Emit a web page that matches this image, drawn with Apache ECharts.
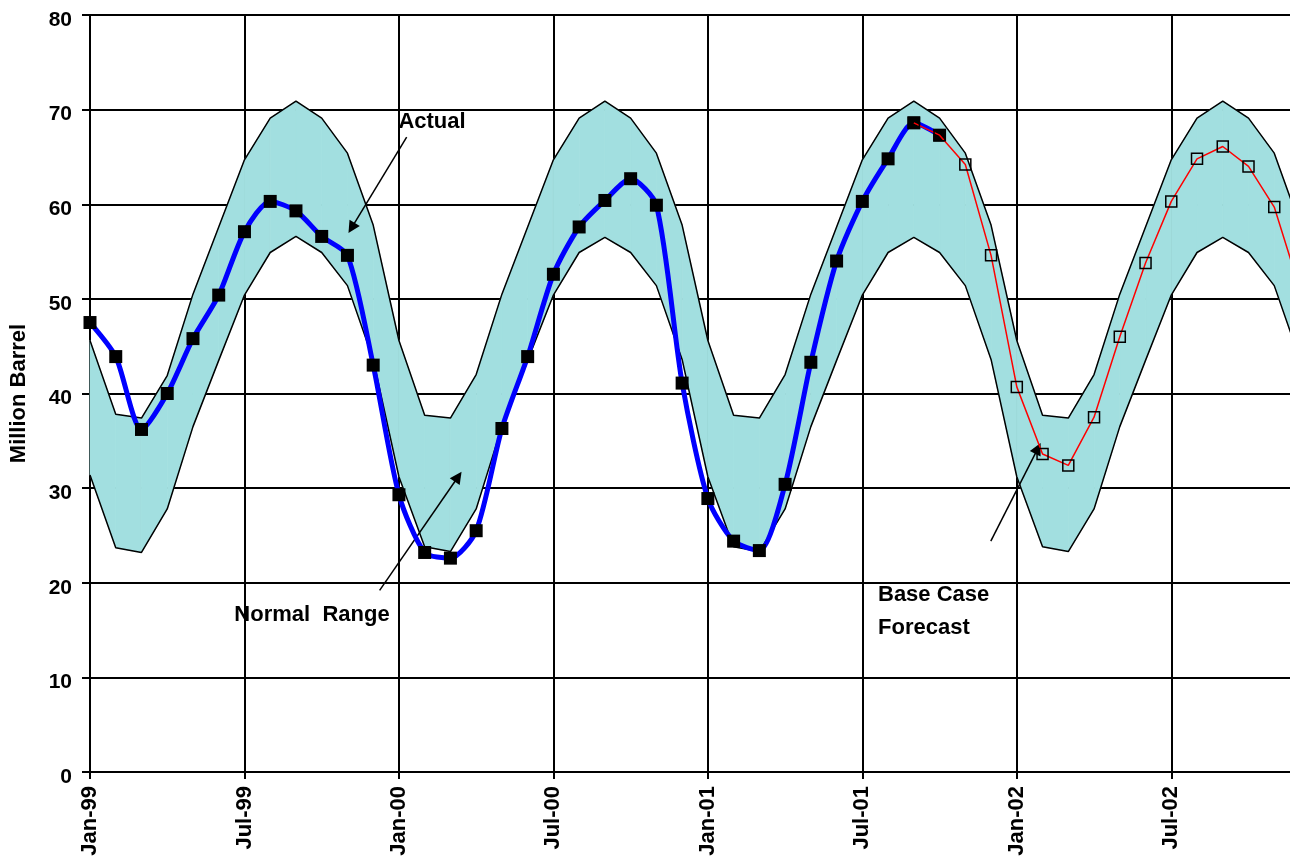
<!DOCTYPE html>
<html>
<head>
<meta charset="utf-8">
<title>Inventory vs normal range</title>
<script src="https://cdn.jsdelivr.net/npm/echarts@6/dist/echarts.min.js"></script>
<style>
  html, body { margin: 0; padding: 0; background: #fff; overflow: hidden; }
  /* plot runs on past the right edge of the window, as in the original */
  #chart { width: 1300px; height: 859px; }
</style>
</head>
<body>
<div id="chart"></div>
<script>
// x = month index, 0 = Jan-99
var tickLabels = ['Jan-99', 'Jul-99', 'Jan-00', 'Jul-00', 'Jan-01', 'Jul-01', 'Jan-02', 'Jul-02'];

// normal range, upper / lower edge, Jan-99 .. Dec-02
var normalHigh = [
  45.6, 37.8, 37.4, 41.9, 50.5, 57.6, 64.7, 69.1, 70.9, 69.1, 65.4, 57.8,
  45.6, 37.7, 37.4, 42.0, 50.5, 57.6, 64.7, 69.1, 70.9, 69.1, 65.4, 57.8,
  45.6, 37.7, 37.4, 42.0, 50.5, 57.6, 64.7, 69.1, 70.9, 69.1, 65.4, 57.8,
  45.6, 37.7, 37.4, 42.0, 50.5, 57.6, 64.7, 69.1, 70.9, 69.1, 65.4, 57.8
];
var normalLow = [
  31.4, 23.7, 23.2, 27.8, 36.5, 43.5, 50.4, 54.9, 56.6, 54.9, 51.4, 43.6,
  31.2, 23.8, 23.3, 27.8, 36.5, 43.5, 50.4, 54.9, 56.5, 54.9, 51.4, 43.6,
  31.2, 23.8, 23.3, 27.8, 36.5, 43.5, 50.4, 54.9, 56.5, 54.9, 51.4, 43.6,
  31.2, 23.8, 23.3, 27.8, 36.5, 43.5, 50.4, 54.9, 56.5, 54.9, 51.4, 43.6
];

// actual, Jan-99 .. Oct-01
var actual = [
  47.5, 43.9, 36.2, 40.0, 45.8, 50.4, 57.1, 60.3, 59.3, 56.6, 54.6, 43.0,
  29.3, 23.2, 22.6, 25.5, 36.3, 43.9, 52.6, 57.6, 60.4, 62.7, 59.9, 41.1,
  28.9, 24.4, 23.4, 30.4, 43.3, 54.0, 60.3, 64.8, 68.6, 67.3
];

// base case forecast, Sep-01 .. Dec-02
var forecastStart = 32;
var forecast = [
  68.6, 67.3, 64.2, 54.6, 40.7, 33.6, 32.4, 37.5, 46.0, 53.8, 60.3, 64.8,
  66.1, 64.0, 59.7, 51.0
];

function pairs(arr, start) {
  return arr.map(function (v, i) { return [start + i, v]; });
}

var chart = echarts.init(document.getElementById('chart'));
var FONT = '"Liberation Sans", Arial, sans-serif';
var BAND = '#a2dfe0';

// fill between the two edges, one quad per month
function renderBand(params, api) {
  var i = api.value(0);
  if (i >= normalHigh.length - 1) return;
  var pts = [
    api.coord([i, normalHigh[i]]),
    api.coord([i + 1, normalHigh[i + 1]]),
    api.coord([i + 1, normalLow[i + 1]]),
    api.coord([i, normalLow[i]])
  ];
  return {
    type: 'polygon',
    shape: { points: pts },
    style: { fill: BAND, stroke: BAND, lineWidth: 0.8 }
  };
}

var option = {
  animation: false,
  backgroundColor: '#fff',
  grid: { left: 87, top: 15, right: 0, bottom: 87, containLabel: false },
  xAxis: {
    type: 'value',
    min: 0,
    max: 47,
    interval: 6,
    axisLine: { show: true, lineStyle: { color: '#000', width: 2 } },
    axisTick: { show: true, length: 7, lineStyle: { color: '#000', width: 2 } },
    splitLine: { show: true, lineStyle: { color: '#000', width: 2 } },
    axisLabel: {
      rotate: 90,
      margin: 14,
      color: '#000',
      fontFamily: FONT,
      fontWeight: 'bold',
      fontSize: 22,
      formatter: function (v) {
        return v % 6 === 0 ? (tickLabels[v / 6] || '') : '';
      }
    }
  },
  yAxis: {
    type: 'value',
    min: 0,
    max: 80,
    interval: 10,
    name: 'Million Barrel',
    nameLocation: 'middle',
    nameGap: 60,
    nameTextStyle: { color: '#000', fontFamily: FONT, fontWeight: 'bold', fontSize: 22 },
    axisLine: { show: true, lineStyle: { color: '#000', width: 2 } },
    axisTick: { show: true, length: 8, lineStyle: { color: '#000', width: 2 } },
    splitLine: { show: true, lineStyle: { color: '#000', width: 2 } },
    axisLabel: {
      margin: 18,
      color: '#000',
      fontFamily: FONT,
      fontWeight: 'bold',
      fontSize: 21,
      verticalAlign: 'top',
      lineHeight: 10
    }
  },
  series: [
    {
      name: 'Normal Range',
      type: 'custom',
      renderItem: renderBand,
      clip: true,
      data: normalHigh.map(function (v, i) { return [i, normalLow[i], v]; }),
      encode: { x: 0, y: [1, 2] },
      z: 2
    },
    {
      name: 'Normal high',
      type: 'line',
      data: pairs(normalHigh, 0),
      symbol: 'none',
      lineStyle: { color: '#000', width: 1.5 },
      z: 3
    },
    {
      name: 'Normal low',
      type: 'line',
      data: pairs(normalLow, 0),
      symbol: 'none',
      lineStyle: { color: '#000', width: 1.5 },
      z: 3
    },
    {
      name: 'Actual',
      type: 'line',
      data: pairs(actual, 0),
      smooth: 0.25,
      symbol: 'rect',
      symbolSize: 13,
      showAllSymbol: true,
      lineStyle: { color: '#0000ff', width: 5 },
      itemStyle: { color: '#000' },
      z: 5
    },
    {
      name: 'Base Case Forecast',
      type: 'line',
      data: pairs(forecast, forecastStart),
      symbol: 'rect',
      symbolSize: 11,
      showAllSymbol: true,
      lineStyle: { color: '#ff0000', width: 1.5 },
      itemStyle: { color: 'rgba(0,0,0,0)', borderColor: '#000', borderWidth: 1.5 },
      z: 6,
      markLine: {
        silent: true,
        symbol: ['none', 'triangle'],
        symbolSize: 12,
        label: { show: false },
        lineStyle: { color: '#000', width: 1.5, type: 'solid' },
        data: [
          [{ coord: [12.3, 67.1] }, { coord: [10.16, 57.5] }],
          [{ coord: [11.25, 19.2] }, { coord: [14.3, 31.2] }],
          [{ coord: [34.99, 24.4] }, { coord: [36.82, 34.2] }]
        ]
      }
    }
  ],
  graphic: [
    {
      type: 'group', z: 100,
      children: [
        { type: 'rect', shape: { x: 393, y: 98, width: 87, height: 39 }, style: { fill: '#fff' } },
        { type: 'text', x: 432, y: 122, style: { text: 'Actual', font: 'bold 22px ' + FONT, fill: '#000', align: 'center', verticalAlign: 'middle' } }
      ]
    },
    {
      type: 'group', z: 100,
      children: [
        { type: 'rect', shape: { x: 224, y: 590, width: 178, height: 51 }, style: { fill: '#fff' } },
        { type: 'text', x: 312, y: 615, style: { text: 'Normal  Range', font: 'bold 22px ' + FONT, fill: '#000', align: 'center', verticalAlign: 'middle' } }
      ]
    },
    {
      type: 'group', z: 100,
      children: [
        { type: 'rect', shape: { x: 872, y: 571, width: 182, height: 72 }, style: { fill: '#fff' } },
        { type: 'text', x: 878, y: 595, style: { text: 'Base Case', font: 'bold 22px ' + FONT, fill: '#000', align: 'left', verticalAlign: 'middle' } },
        { type: 'text', x: 878, y: 628, style: { text: 'Forecast', font: 'bold 22px ' + FONT, fill: '#000', align: 'left', verticalAlign: 'middle' } }
      ]
    }
  ]
};

chart.setOption(option);
</script>
</body>
</html>
